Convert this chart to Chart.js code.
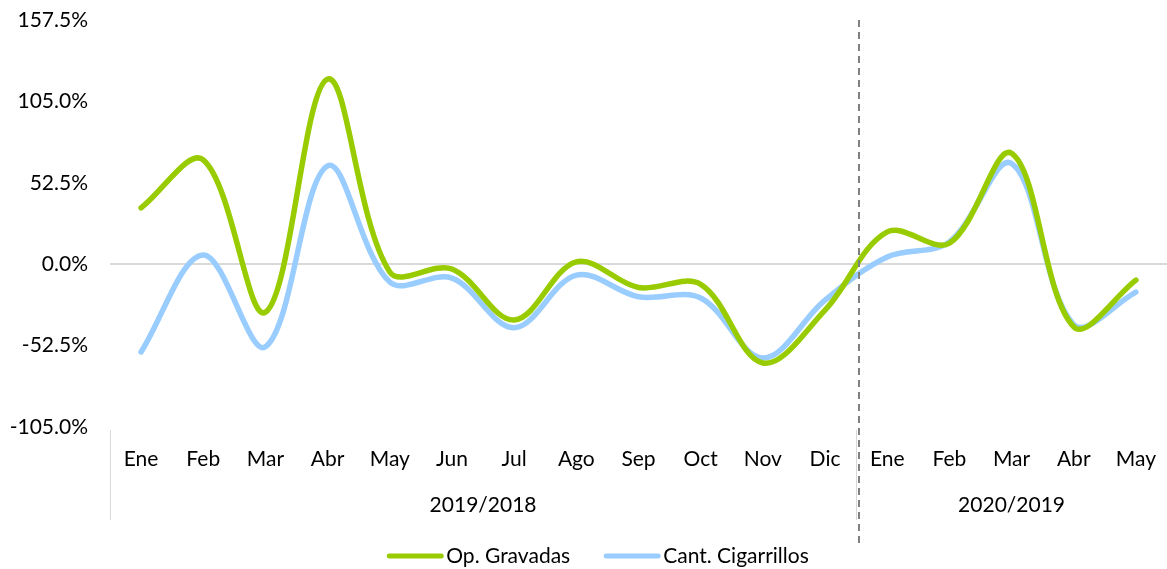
<!DOCTYPE html>
<html>
<head>
<meta charset="utf-8">
<script src="https://cdn.jsdelivr.net/npm/chart.js@4.4.1/dist/chart.umd.min.js"></script>
<style>
    html, body { margin: 0; padding: 0; background: #ffffff; }
</style>
</head>
<body>
<canvas id="chart" width="1167" height="569"></canvas>
<script>
// ---------- Data ----------
const months = ['Ene', 'Feb', 'Mar', 'Abr', 'May', 'Jun', 'Jul', 'Ago', 'Sep', 'Oct', 'Nov', 'Dic',
                'Ene', 'Feb', 'Mar', 'Abr', 'May'];
const periods = ['2019/2018', '2020/2019'];
const periodSizes = [12, 5];

const opGravadas = [36.3, 67.3, -31, 119.4, -5, -3.1, -36, 1.5, -15, -13, -63.7, -29.6,
                    20.8, 13.5, 71.5, -40.4, -10.3];
const cantCigarrillos = [-56.6, 6, -53.3, 63.4, -11.5, -9, -41, -7, -21, -21.8, -60.5, -23.2,
                         4.7, 14.4, 65, -39, -18];

const yMin = -105;
const yMax = 157.5;
const yStep = 52.5;

const FONT = 'Lato';
const FONT_SIZE = 21;
const GREEN = '#99cc00';
const BLUE = '#99ccff';

// ---------- Period labels, separators, legend ----------
const periodAxis = {
    id: 'periodAxis',
    afterDatasetsDraw(chart) {
        const { ctx, chartArea, scales: { x } } = chart;
        const half = (x.getPixelForValue(1) - x.getPixelForValue(0)) / 2;
        ctx.save();

        // solid separators under the month labels
        ctx.strokeStyle = '#d9d9d9';
        ctx.lineWidth = 1;
        let start = 0;
        const bounds = [x.getPixelForValue(0) - half];
        periodSizes.forEach(n => {
            start += n;
            bounds.push(x.getPixelForValue(start - 1) + half);
        });
        bounds.slice(0, -1).forEach(bx => {
            ctx.beginPath();
            ctx.moveTo(Math.round(bx) + 0.5, chartArea.bottom + 3);
            ctx.lineTo(Math.round(bx) + 0.5, chartArea.bottom + 93);
            ctx.stroke();
        });

        // year labels, centred on their group of months
        ctx.fillStyle = '#000000';
        ctx.font = `${FONT_SIZE}px ${FONT}`;
        ctx.textAlign = 'center';
        ctx.textBaseline = 'middle';
        start = 0;
        periods.forEach((p, i) => {
            const first = x.getPixelForValue(start);
            const last = x.getPixelForValue(start + periodSizes[i] - 1);
            ctx.fillText(p, (first + last) / 2, chartArea.bottom + 78);
            start += periodSizes[i];
        });

        // dashed divider between the two periods
        const dx = Math.round(bounds[1]) + 3;
        ctx.strokeStyle = '#808080';
        ctx.lineWidth = 2;
        ctx.setLineDash([7, 5]);
        ctx.beginPath();
        ctx.moveTo(dx, chartArea.top);
        ctx.lineTo(dx, chartArea.bottom + 121);
        ctx.stroke();
        ctx.setLineDash([]);

        // legend
        const sets = chart.data.datasets;
        const lineW = 56, gap = 3, spacing = 34;
        ctx.textAlign = 'left';
        const widths = sets.map(d => ctx.measureText(d.label).width);
        const total = widths.reduce((a, w) => a + lineW + gap + w, 0) + spacing * (sets.length - 1);
        let lx = 598 - total / 2;
        const ly = 556;
        sets.forEach((d, i) => {
            ctx.strokeStyle = d.borderColor;
            ctx.lineWidth = 5;
            ctx.lineCap = 'round';
            ctx.beginPath();
            ctx.moveTo(lx + 2, ly);
            ctx.lineTo(lx + lineW - 2, ly);
            ctx.stroke();
            ctx.fillText(d.label, lx + lineW + gap, ly);
            lx += lineW + gap + widths[i] + spacing;
        });
        ctx.restore();
    },
};

const makeLine = (label, data, color) => ({
    label,
    data,
    borderColor: color,
    backgroundColor: color,
    borderWidth: 5.5,
    borderCapStyle: 'round',
    tension: 0.35,
    pointRadius: 0,
    fill: false,
});

new Chart(document.getElementById('chart'), {
    type: 'line',
    data: {
        labels: months,
        datasets: [
            makeLine('Op. Gravadas', opGravadas, GREEN),
            makeLine('Cant. Cigarrillos', cantCigarrillos, BLUE),
        ],
    },
    plugins: [periodAxis],
    options: {
        responsive: false,
        animation: false,
        layout: { padding: { top: 20, right: -4, left: 0, bottom: 42 } },
        plugins: {
            legend: { display: false },
            tooltip: { enabled: false },
        },
        scales: {
            x: {
                offset: true,
                grid: { display: false },
                border: { display: false },
                ticks: {
                    color: '#000000',
                    font: { size: FONT_SIZE, family: FONT },
                    padding: 12,
                    maxRotation: 0,
                    autoSkip: false,
                },
                afterFit: scale => {
                    scale.height = 100;
                    scale.paddingLeft = 0;
                    scale.paddingRight = 0;
                },
            },
            y: {
                min: yMin,
                max: yMax,
                grid: {
                    drawTicks: false,
                    color: ctx => (ctx.tick && ctx.tick.value === 0 ? '#d9d9d9' : 'rgba(0,0,0,0)'),
                    lineWidth: 2,
                },
                border: { display: false },
                ticks: {
                    stepSize: yStep,
                    color: '#000000',
                    font: { size: FONT_SIZE, family: FONT },
                    padding: 22,
                    callback: v => v.toFixed(1) + '%',
                },
                afterFit: scale => {
                    scale.width = 110;
                    scale.paddingTop = 0;
                    scale.paddingBottom = 0;
                },
            },
        },
    },
});
</script>
</body>
</html>
